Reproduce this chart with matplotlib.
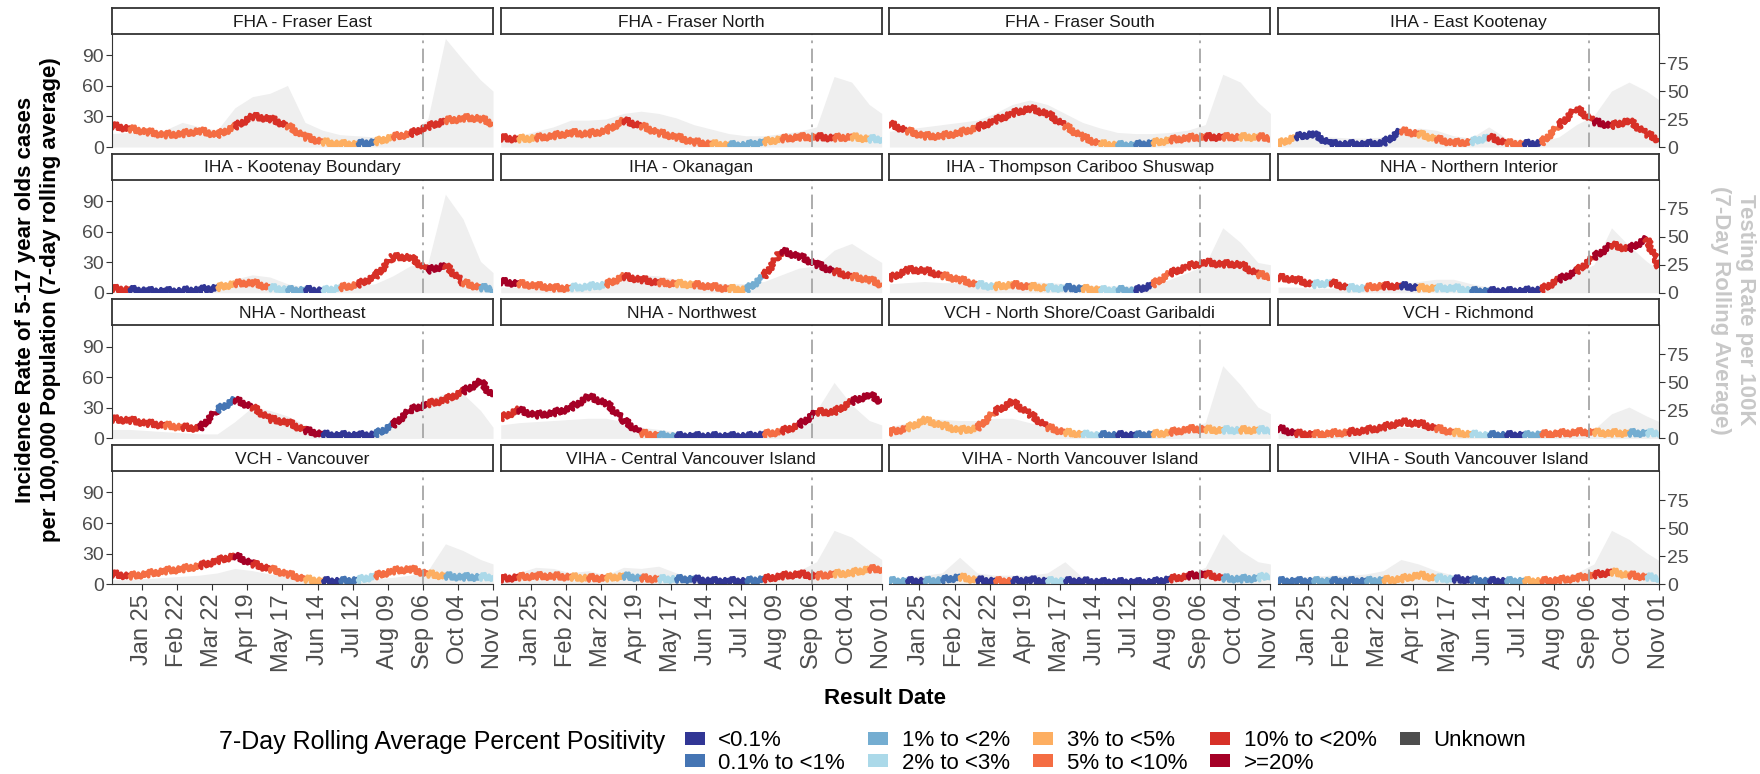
import numpy as np
import matplotlib
matplotlib.use("Agg")
import matplotlib.pyplot as plt
import matplotlib.dates as mdates
from matplotlib.collections import LineCollection
from matplotlib.patches import Patch

plt.rcParams["font.family"] = ["Liberation Sans", "DejaVu Sans"]

# biweekly sample dates (Jan 1 .. Nov 1, 2021)
dates = np.array(["2021-01-01", "2021-01-15", "2021-01-29", "2021-02-12", "2021-02-26",
                  "2021-03-12", "2021-03-26", "2021-04-09", "2021-04-23", "2021-05-07",
                  "2021-05-21", "2021-06-04", "2021-06-18", "2021-07-02", "2021-07-16",
                  "2021-07-30", "2021-08-13", "2021-08-27", "2021-09-10", "2021-09-24",
                  "2021-10-08", "2021-10-22", "2021-11-01"], dtype="datetime64[D]")
school_start = np.datetime64("2021-09-06")
tick_dates = np.array(["2021-01-25", "2021-02-22", "2021-03-22", "2021-04-19", "2021-05-17",
                       "2021-06-14", "2021-07-12", "2021-08-09", "2021-09-06", "2021-10-04",
                       "2021-11-01"], dtype="datetime64[D]")

pos_labels = ["<0.1%", "0.1% to <1%", "1% to <2%", "2% to <3%", "3% to <5%",
              "5% to <10%", "10% to <20%", ">=20%", "Unknown"]
pos_colors = ["#313695", "#4575b4", "#74add1", "#abd9e9", "#fdae61",
              "#f46d43", "#d73027", "#a50026", "#4d4d4d"]

# incidence (per 100k), positivity class index, testing rate (per 100k)
inc_fraser_east = [21, 18, 15, 12, 13, 16, 12, 20, 30, 28, 21, 10, 5, 3, 3, 5, 10, 13, 20, 26, 28, 28, 23]
pos_fraser_east = [6, 5, 5, 5, 5, 5, 5, 6, 6, 6, 5, 5, 4, 4, 1, 4, 5, 6, 6, 5, 5, 5, 6]
tst_fraser_east = [12, 13, 14, 15, 22, 18, 15, 35, 45, 48, 55, 22, 15, 11, 10, 9, 10, 12, 25, 97, 78, 60, 50]

inc_fraser_north = [9, 8, 9, 11, 14, 13, 16, 26, 21, 14, 10, 5, 3, 2, 2, 5, 8, 10, 10, 9, 10, 8, 8]
pos_fraser_north = [6, 4, 5, 5, 5, 5, 5, 6, 5, 5, 5, 5, 4, 2, 2, 4, 5, 5, 6, 5, 4, 3, 5]
tst_fraser_north = [8, 10, 14, 18, 24, 24, 25, 30, 32, 30, 26, 20, 16, 12, 10, 10, 12, 14, 18, 63, 58, 38, 30]

inc_fraser_south = [23, 16, 11, 11, 14, 19, 26, 33, 38, 33, 21, 10, 3, 2, 2, 4, 7, 9, 10, 10, 10, 10, 9]
pos_fraser_south = [6, 5, 5, 5, 5, 6, 6, 6, 6, 6, 5, 5, 4, 2, 1, 4, 5, 5, 6, 5, 4, 5, 5]
tst_fraser_south = [14, 16, 18, 20, 22, 24, 30, 38, 42, 38, 30, 22, 17, 13, 12, 12, 13, 15, 20, 65, 58, 40, 30]

inc_east_kootenay = [3, 10, 13, 3, 3, 3, 4, 16, 13, 8, 4, 5, 10, 4, 3, 4, 21, 38, 25, 21, 26, 13, 7]
pos_east_kootenay = [4, 0, 0, 0, 0, 0, 0, 5, 4, 5, 5, 3, 6, 5, 0, 5, 6, 6, 7, 6, 6, 6, 5]
tst_east_kootenay = [6, 8, 10, 9, 8, 8, 9, 14, 17, 15, 10, 8, 18, 8, 6, 5, 9, 20, 28, 50, 58, 50, 42]

inc_kootenay_boundary = [4, 3, 2, 2, 2, 3, 5, 9, 10, 5, 3, 3, 2, 5, 8, 16, 35, 35, 22, 27, 10, 5, 4]
pos_kootenay_boundary = [6, 0, 0, 0, 0, 0, 4, 5, 5, 3, 2, 0, 3, 5, 6, 6, 6, 6, 7, 6, 5, 2, 2]
tst_kootenay_boundary = [5, 4, 4, 3, 3, 4, 6, 12, 16, 14, 8, 5, 4, 5, 6, 8, 15, 24, 26, 88, 66, 28, 18]

inc_okanagan = [11, 9, 7, 5, 5, 6, 8, 16, 13, 10, 9, 8, 6, 4, 3, 16, 41, 36, 28, 21, 16, 13, 8]
pos_okanagan = [7, 5, 5, 5, 3, 3, 5, 6, 6, 5, 4, 5, 5, 4, 2, 6, 7, 7, 7, 6, 5, 5, 6]
tst_okanagan = [5, 5, 6, 6, 7, 8, 10, 14, 16, 15, 12, 10, 9, 8, 8, 10, 16, 22, 24, 38, 44, 34, 27]

inc_thompson = [14, 22, 22, 17, 13, 8, 6, 8, 6, 5, 5, 4, 3, 3, 2, 8, 19, 26, 30, 28, 28, 18, 16]
pos_thompson = [6, 6, 6, 5, 5, 3, 4, 5, 4, 3, 1, 4, 3, 2, 0, 5, 6, 6, 6, 6, 6, 5, 5]
tst_thompson = [8, 9, 10, 9, 9, 9, 8, 9, 10, 9, 8, 7, 6, 6, 6, 7, 12, 18, 25, 58, 45, 27, 25]

inc_northern_interior = [15, 13, 8, 10, 5, 5, 7, 7, 5, 5, 5, 2, 2, 2, 2, 3, 13, 21, 35, 47, 43, 53, 26]
pos_northern_interior = [6, 6, 3, 6, 3, 5, 6, 0, 4, 3, 3, 1, 0, 0, 0, 6, 7, 6, 7, 6, 7, 6, 6]
tst_northern_interior = [5, 5, 4, 4, 5, 6, 6, 8, 10, 12, 12, 8, 5, 4, 4, 5, 10, 18, 25, 58, 42, 28, 20]

inc_northeast = [19, 18, 15, 13, 11, 10, 28, 38, 31, 19, 16, 8, 4, 3, 3, 4, 13, 28, 34, 38, 46, 56, 41]
pos_northeast = [6, 6, 6, 5, 6, 7, 1, 7, 6, 6, 6, 7, 0, 0, 0, 1, 7, 7, 6, 6, 7, 7, 7]
tst_northeast = [8, 8, 7, 6, 5, 4, 4, 15, 28, 25, 20, 12, 6, 4, 4, 5, 10, 25, 35, 40, 40, 25, 10]

inc_northwest = [20, 28, 23, 25, 30, 41, 35, 18, 5, 3, 2, 2, 2, 2, 2, 4, 7, 13, 26, 26, 36, 43, 36]
pos_northwest = [6, 7, 7, 7, 7, 7, 7, 7, 5, 2, 0, 0, 0, 0, 0, 5, 6, 7, 6, 6, 7, 7, 7]
tst_northwest = [12, 14, 15, 16, 17, 18, 18, 15, 10, 8, 6, 4, 3, 3, 3, 4, 8, 12, 25, 50, 30, 16, 12]

inc_north_shore = [6, 10, 18, 13, 8, 10, 26, 36, 24, 11, 6, 4, 3, 3, 3, 4, 6, 9, 9, 8, 8, 8, 8]
pos_north_shore = [5, 4, 4, 4, 4, 5, 6, 6, 6, 5, 4, 3, 1, 0, 1, 4, 5, 5, 4, 3, 4, 3, 4]
tst_north_shore = [10, 14, 18, 17, 16, 16, 18, 18, 14, 10, 8, 7, 6, 6, 6, 7, 8, 10, 14, 65, 48, 28, 22]

inc_richmond = [10, 5, 4, 5, 6, 8, 11, 16, 15, 10, 6, 4, 3, 3, 3, 4, 5, 6, 6, 5, 5, 5, 5]
pos_richmond = [7, 6, 5, 5, 6, 6, 6, 6, 6, 5, 4, 3, 1, 0, 2, 5, 5, 5, 4, 4, 2, 3, 4]
tst_richmond = [5, 5, 6, 6, 7, 8, 9, 10, 9, 8, 6, 5, 4, 4, 4, 4, 5, 6, 8, 22, 28, 20, 15]

inc_vancouver = [10, 8, 10, 13, 15, 18, 23, 28, 20, 15, 10, 5, 3, 3, 4, 8, 13, 15, 10, 8, 7, 7, 7]
pos_vancouver = [6, 5, 5, 5, 5, 6, 6, 7, 6, 5, 5, 4, 0, 1, 3, 5, 5, 5, 4, 2, 2, 3, 4]
tst_vancouver = [4, 4, 5, 6, 7, 8, 10, 14, 12, 9, 7, 5, 4, 4, 4, 5, 6, 8, 12, 36, 30, 22, 18]

inc_central_vi = [5, 7, 8, 8, 7, 6, 6, 8, 6, 5, 5, 5, 3, 3, 3, 5, 8, 10, 8, 10, 11, 15, 15]
pos_central_vi = [6, 5, 5, 5, 4, 5, 4, 2, 5, 3, 1, 0, 0, 0, 1, 6, 6, 6, 5, 4, 4, 5, 6]
tst_central_vi = [5, 10, 15, 14, 10, 12, 8, 15, 14, 16, 10, 6, 5, 5, 5, 6, 8, 12, 20, 48, 42, 30, 22]

inc_north_vi = [3, 3, 3, 4, 7, 4, 3, 3, 4, 3, 3, 3, 2, 2, 2, 2, 5, 8, 10, 6, 5, 6, 9]
pos_north_vi = [2, 0, 2, 1, 4, 0, 5, 0, 0, 3, 0, 0, 0, 0, 0, 0, 6, 7, 6, 2, 2, 3, 5]
tst_north_vi = [5, 6, 8, 10, 24, 10, 8, 8, 8, 10, 20, 6, 5, 5, 5, 5, 6, 8, 15, 45, 30, 20, 18]

inc_south_vi = [3, 3, 3, 3, 3, 3, 4, 5, 9, 6, 5, 4, 3, 3, 3, 3, 4, 6, 9, 12, 9, 7, 6]
pos_south_vi = [1, 1, 2, 1, 1, 2, 4, 4, 4, 3, 0, 1, 0, 2, 4, 5, 5, 5, 6, 4, 5, 3, 4]
tst_south_vi = [5, 6, 7, 8, 8, 9, 12, 22, 18, 12, 8, 6, 5, 5, 5, 5, 6, 10, 18, 48, 40, 28, 21]

panels = [
    ("FHA - Fraser East", inc_fraser_east, pos_fraser_east, tst_fraser_east),
    ("FHA - Fraser North", inc_fraser_north, pos_fraser_north, tst_fraser_north),
    ("FHA - Fraser South", inc_fraser_south, pos_fraser_south, tst_fraser_south),
    ("IHA - East Kootenay", inc_east_kootenay, pos_east_kootenay, tst_east_kootenay),
    ("IHA - Kootenay Boundary", inc_kootenay_boundary, pos_kootenay_boundary, tst_kootenay_boundary),
    ("IHA - Okanagan", inc_okanagan, pos_okanagan, tst_okanagan),
    ("IHA - Thompson Cariboo Shuswap", inc_thompson, pos_thompson, tst_thompson),
    ("NHA - Northern Interior", inc_northern_interior, pos_northern_interior, tst_northern_interior),
    ("NHA - Northeast", inc_northeast, pos_northeast, tst_northeast),
    ("NHA - Northwest", inc_northwest, pos_northwest, tst_northwest),
    ("VCH - North Shore/Coast Garibaldi", inc_north_shore, pos_north_shore, tst_north_shore),
    ("VCH - Richmond", inc_richmond, pos_richmond, tst_richmond),
    ("VCH - Vancouver", inc_vancouver, pos_vancouver, tst_vancouver),
    ("VIHA - Central Vancouver Island", inc_central_vi, pos_central_vi, tst_central_vi),
    ("VIHA - North Vancouver Island", inc_north_vi, pos_north_vi, tst_north_vi),
    ("VIHA - South Vancouver Island", inc_south_vi, pos_south_vi, tst_south_vi),
]

W, H = 1760, 774
fig = plt.figure(figsize=(W / 100, H / 100), dpi=100)

x = mdates.date2num(dates)
grey_txt = "#4d4d4d"
line_col = "#333333"

for k, (name, inc, pos, tst) in enumerate(panels):
    r, c = divmod(k, 4)
    left = (112 + c * 388.7) / W
    top = 34 + r * 145.7
    rect = [left, 1 - (top + 113) / H, 381 / W, 113 / H]

    # testing rate (right axis), drawn behind
    ax2 = fig.add_axes(rect)
    ax2.fill_between(dates, tst, 0, color="#efefef", lw=0)
    ax2.set_ylim(0, 101)
    ax2.set_xlim(np.datetime64("2021-01-01"), np.datetime64("2021-11-01"))
    ax2.yaxis.tick_right()
    ax2.set_yticks([0, 25, 50, 75])
    ax2.set_xticks([])
    for s in ax2.spines.values():
        s.set_visible(False)
    if c == 3:
        ax2.spines["right"].set_visible(True)
        ax2.spines["right"].set_color(line_col)
        ax2.tick_params(axis="y", labelsize=14, labelcolor=grey_txt, color=line_col, length=4, pad=2)
    else:
        ax2.tick_params(axis="y", right=False, labelright=False)

    # incidence (left axis), drawn on top
    ax = fig.add_axes(rect)
    ax.patch.set_visible(False)
    pts = np.column_stack([x, inc])
    segs = np.stack([pts[:-1], pts[1:]], axis=1)
    lc = LineCollection(segs, colors=[pos_colors[p] for p in pos[:-1]], linewidths=2.8,
                        capstyle="round")
    lc.set_sketch_params(3.2, 1.6, 2.0)
    ax.add_collection(lc)
    ax.axvline(school_start, color="#a6a6a6", lw=1.3, ls=(0, (8, 3, 1.5, 3)))
    ax.set_xlim(np.datetime64("2021-01-01"), np.datetime64("2021-11-01"))
    ax.set_ylim(0, 111)
    ax.set_yticks([0, 30, 60, 90])
    for s in ax.spines.values():
        s.set_visible(False)
    if c == 0:
        ax.spines["left"].set_visible(True)
        ax.spines["left"].set_color(line_col)
        ax.tick_params(axis="y", labelsize=14, labelcolor=grey_txt, color=line_col, length=4, pad=2)
    else:
        ax.tick_params(axis="y", left=False, labelleft=False)
    if r == 3:
        ax.spines["bottom"].set_visible(True)
        ax.spines["bottom"].set_color(line_col)
        ax.set_xticks(tick_dates)
        ax.xaxis.set_major_formatter(mdates.DateFormatter("%b %d"))
        ax.tick_params(axis="x", labelsize=17, labelcolor=grey_txt, color=line_col,
                       length=4, labelrotation=90, pad=3)
    else:
        ax.set_xticks([])

    # facet strip
    sax = fig.add_axes([left, 1 - (top) / H, 381 / W, 26 / H])
    sax.set_xticks([])
    sax.set_yticks([])
    for s in sax.spines.values():
        s.set_color(line_col)
        s.set_linewidth(1.3)
    sax.text(0.5, 0.45, name, ha="center", va="center", fontsize=12.5, color="#1a1a1a",
             transform=sax.transAxes)

fig.text(38 / W, 1 - 300 / H,
         "Incidence Rate of 5-17 year olds cases\nper 100,000 Population (7-day rolling average)",
         rotation=90, ha="center", va="center", fontsize=16, fontweight="bold",
         multialignment="center")
fig.text(1733 / W, 1 - 310 / H, "Testing Rate per 100K\n(7-Day Rolling Average)",
         rotation=270, ha="center", va="center", fontsize=16, fontweight="bold",
         color="#c8c8c8", multialignment="center")
fig.text(885 / W, 1 - 698 / H, "Result Date", ha="center", va="center",
         fontsize=16, fontweight="bold")

fig.text(219 / W, 1 - 742 / H, "7-Day Rolling Average Percent Positivity",
         ha="left", va="center", fontsize=18)
handles = [Patch(facecolor=col, edgecolor="none") for col in pos_colors]
fig.legend(handles, pos_labels, ncol=5, loc="center left",
           bbox_to_anchor=(685 / W, 1 - 752 / H), frameon=False, fontsize=16,
           handlelength=0.9, handleheight=0.55, handletextpad=0.6,
           columnspacing=1.05, labelspacing=0.05, borderpad=0, borderaxespad=0)

fig.savefig("out.png", dpi=100)
